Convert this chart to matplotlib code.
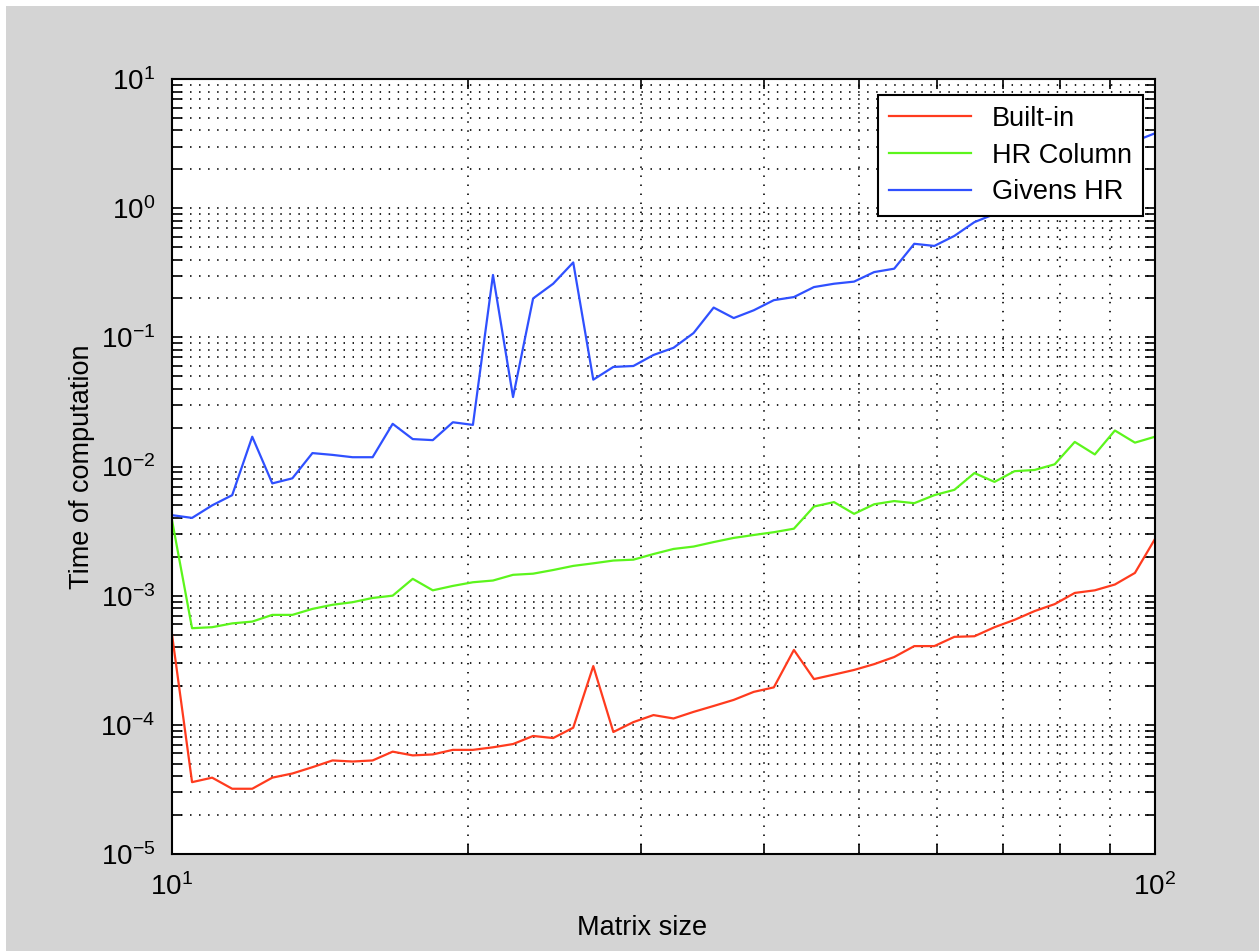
import matplotlib.pyplot as plt
import numpy as np
from matplotlib.patches import Rectangle
from matplotlib.ticker import FixedLocator, LogLocator, NullFormatter

plt.rcParams['font.family'] = ['Liberation Sans', 'DejaVu Sans']
plt.rcParams['mathtext.fontset'] = 'custom'
plt.rcParams['mathtext.rm'] = 'Liberation Sans'
plt.rcParams['mathtext.it'] = 'Liberation Sans'

# matrix sizes: 50 log-spaced points between 10 and 100
sizes = np.logspace(1, 2, 50)

builtin = [5.0e-4, 3.6e-5, 3.9e-5, 3.2e-5, 3.2e-5, 3.9e-5, 4.2e-5, 4.7e-5, 5.3e-5, 5.2e-5,
           5.3e-5, 6.2e-5, 5.8e-5, 5.9e-5, 6.4e-5, 6.4e-5, 6.7e-5, 7.1e-5, 8.2e-5, 7.9e-5,
           9.5e-5, 2.85e-4, 8.8e-5, 1.05e-4, 1.19e-4, 1.12e-4, 1.26e-4, 1.4e-4, 1.56e-4, 1.8e-4,
           1.95e-4, 3.8e-4, 2.26e-4, 2.45e-4, 2.66e-4, 2.95e-4, 3.35e-4, 4.07e-4, 4.07e-4, 4.8e-4,
           4.85e-4, 5.7e-4, 6.5e-4, 7.6e-4, 8.6e-4, 1.05e-3, 1.1e-3, 1.22e-3, 1.5e-3, 2.75e-3]

hr_column = [3.85e-3, 5.6e-4, 5.7e-4, 6.1e-4, 6.3e-4, 7.1e-4, 7.1e-4, 7.9e-4, 8.5e-4, 8.9e-4,
             9.6e-4, 1.0e-3, 1.35e-3, 1.1e-3, 1.19e-3, 1.27e-3, 1.31e-3, 1.45e-3, 1.48e-3, 1.58e-3,
             1.7e-3, 1.78e-3, 1.87e-3, 1.9e-3, 2.1e-3, 2.3e-3, 2.4e-3, 2.6e-3, 2.8e-3, 2.95e-3,
             3.1e-3, 3.3e-3, 4.9e-3, 5.3e-3, 4.3e-3, 5.1e-3, 5.4e-3, 5.2e-3, 6.0e-3, 6.6e-3,
             8.9e-3, 7.6e-3, 9.2e-3, 9.4e-3, 1.04e-2, 1.55e-2, 1.24e-2, 1.9e-2, 1.53e-2, 1.7e-2]

givens_hr = [4.2e-3, 4.0e-3, 5.0e-3, 6.0e-3, 0.017, 7.4e-3, 8.1e-3, 0.0127, 0.0123, 0.0118,
             0.0118, 0.0214, 0.0163, 0.016, 0.022, 0.021, 0.304, 0.0345, 0.20, 0.26,
             0.38, 0.047, 0.059, 0.060, 0.073, 0.083, 0.108, 0.17, 0.141, 0.162,
             0.194, 0.205, 0.245, 0.26, 0.27, 0.32, 0.34, 0.53, 0.51, 0.61,
             0.78, 0.9, 1.05, 1.3, 1.5, 1.8, 2.1, 2.5, 3.3, 3.8]

y_decades = [1e-5, 1e-4, 1e-3, 1e-2, 1e-1, 1e0, 1e1]
x_decades = [10, 100]

fig = plt.figure(figsize=(12.59, 9.51), dpi=100, facecolor='white')
fig.patches.append(Rectangle((6 / 1259, 0), 1, 1 - 6 / 951, transform=fig.transFigure,
                             facecolor='#d4d4d4', edgecolor='none', zorder=-10))

ax = fig.add_axes([172 / 1259, 1 - 854 / 951, (1155 - 172) / 1259, (854 - 79) / 951])
ax.set_facecolor('white')

ax.loglog(sizes, builtin, color='#ff3b1e', lw=1.6, label='Built-in')
ax.loglog(sizes, hr_column, color='#5cf51c', lw=1.6, label='HR Column')
ax.loglog(sizes, givens_hr, color='#2f50ff', lw=1.6, label='Givens HR')

ax.set_xlim(10, 100)
ax.set_ylim(1e-5, 10)

ax.xaxis.set_major_locator(FixedLocator(x_decades))
ax.yaxis.set_major_locator(FixedLocator(y_decades))
ax.xaxis.set_minor_locator(LogLocator(base=10, subs=np.arange(2, 10)))
ax.yaxis.set_minor_locator(LogLocator(base=10, subs=np.arange(2, 10), numticks=20))
ax.xaxis.set_minor_formatter(NullFormatter())
ax.yaxis.set_minor_formatter(NullFormatter())

ax.grid(True, which='both', color='#111111', linestyle=(0, (0.8, 4.2)), lw=1.3)
ax.tick_params(which='both', direction='in', top=True, right=True, length=7, width=1.2,
               labelsize=20)
ax.tick_params(axis='y', pad=12)
ax.tick_params(axis='x', pad=14)
for s in ax.spines.values():
    s.set_linewidth(1.5)

ax.set_xlabel('Matrix size', fontsize=19.5, va='center')
ax.xaxis.set_label_coords((642 - 172) / 983, -(928 - 854) / 775)
ax.set_ylabel('Time of computation', fontsize=19.5, va='center')
ax.yaxis.set_label_coords(-(172 - 82) / 983, 0.5)

leg = ax.legend(loc='upper right', bbox_to_anchor=(1 - 12 / 983, 1 - 16 / 775), fontsize=19.5,
                fancybox=False, framealpha=1, edgecolor='black', handlelength=3.0,
                borderaxespad=0, labelspacing=0.4)
leg.get_frame().set_linewidth(1.5)

fig.savefig('out.png', dpi=100, facecolor=fig.get_facecolor())
